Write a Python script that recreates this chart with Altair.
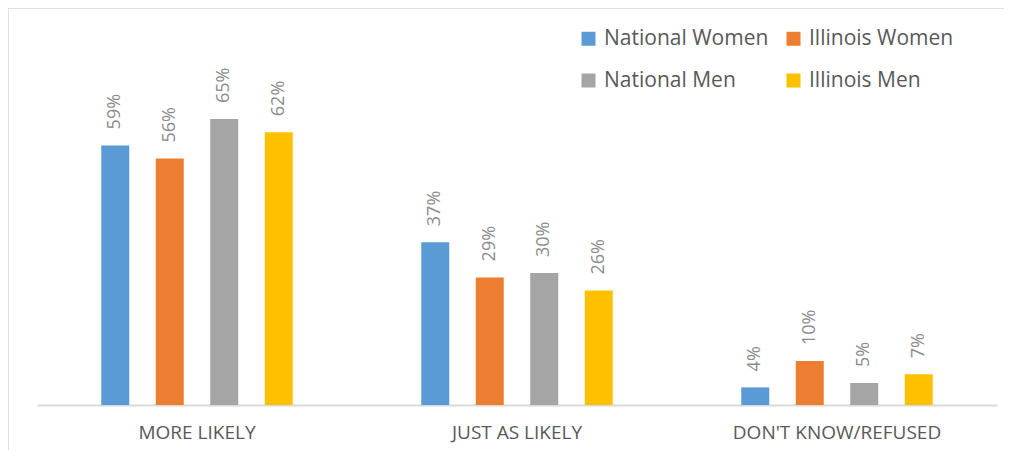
import altair as alt
import pandas as pd

categories = ["MORE LIKELY", "JUST AS LIKELY", "DON'T KNOW/REFUSED"]
series = ["National Women", "Illinois Women", "National Men", "Illinois Men"]
colors = ["#5B9BD5", "#ED7D31", "#A5A5A5", "#FFC000"]
national_women = [0.59, 0.37, 0.04]
illinois_women = [0.56, 0.29, 0.10]
national_men = [0.65, 0.30, 0.05]
illinois_men = [0.62, 0.26, 0.07]

rows = []
for s, vals in zip(series, [national_women, illinois_women, national_men, illinois_men]):
    for c, v in zip(categories, vals):
        rows.append({"category": c, "series": s, "value": v})
df = pd.DataFrame(rows)

# legend is filled column by column, so order the colour domain to read row-wise
legend_order = [series[0], series[2], series[1], series[3]]
legend_colors = [colors[0], colors[2], colors[1], colors[3]]

FONT = "Open Sans"

x = alt.X("category:N", sort=categories, title=None,
          scale=alt.Scale(paddingInner=0.31875, paddingOuter=0.159375),
          axis=alt.Axis(labelAngle=0, ticks=False, domainColor="#D9D9D9", domainWidth=2,
                        labelFontSize=19, labelColor="#595959", labelPadding=18,
                        labelFont=FONT, labelLimit=0, grid=False))
xo = alt.XOffset("series:N", sort=series,
                 scale=alt.Scale(paddingInner=0.486, paddingOuter=0.243))
y = alt.Y("value:Q", scale=alt.Scale(domain=[0, 0.7]), axis=None)

base = alt.Chart(df)

bars = base.mark_bar().encode(
    x=x, xOffset=xo, y=y,
    color=alt.Color("series:N",
                    scale=alt.Scale(domain=legend_order, range=legend_colors),
                    legend=alt.Legend(orient="none", legendX=541, legendY=-69, columns=2,
                                      title=None, symbolType="square", symbolSize=196,
                                      symbolStrokeWidth=0, labelFontSize=21,
                                      labelColor="#595959", labelFont=FONT, labelLimit=0,
                                      columnPadding=14, rowPadding=20, labelOffset=5)),
)

labels = base.mark_text(angle=270, align="left", baseline="middle", dx=16,
                        fontSize=18, color="#8C8C8C", font=FONT).encode(
    x=x, xOffset=xo, y=y,
    text=alt.Text("value:Q", format=".0%"),
)

one = pd.DataFrame({"a": [0]})
border_top = alt.Chart(one).mark_rule(color="#D9D9D9", strokeWidth=1.5).encode(
    x=alt.value(-29), x2=alt.value(980), y=alt.value(-89))
border_left = alt.Chart(one).mark_rule(color="#D9D9D9", strokeWidth=1.5).encode(
    x=alt.value(-29), y=alt.value(-89), y2=alt.value(400))

chart = alt.layer(border_top, border_left, bars, labels).properties(
    width=960, height=308,
    autosize=alt.AutoSizeParams(type="none"),
    padding={"left": 29, "top": 89, "right": 7, "bottom": 45},
).configure_view(stroke=None, strokeWidth=0)

chart.save("out.html", embed_options={"renderer": "svg", "actions": False})
